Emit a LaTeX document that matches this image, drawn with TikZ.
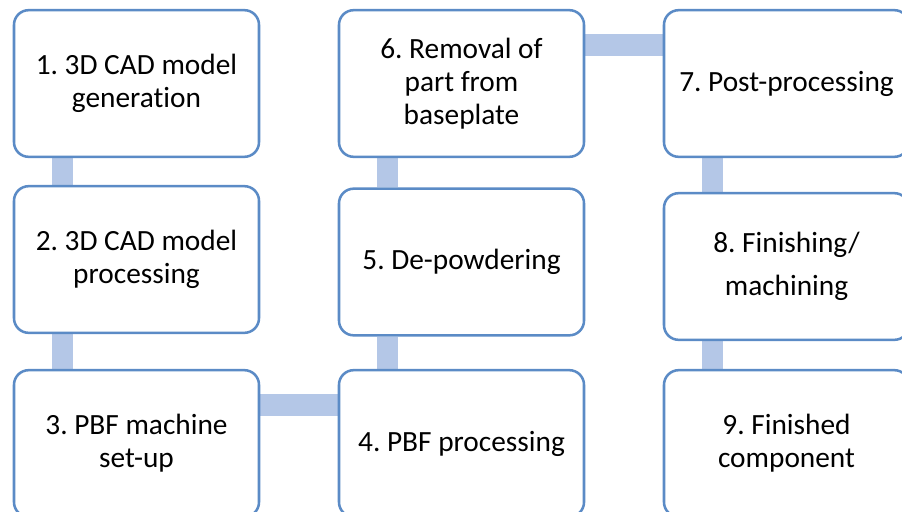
\documentclass[tikz,border=0pt]{standalone}
\usepackage{fontspec}
\setmainfont{Carlito}[Ligatures=NoCommon]
\usetikzlibrary{backgrounds}
\definecolor{stepline}{HTML}{5B8BC6}
\definecolor{steplink}{HTML}{B4C7E7}
\tikzset{
    stepbox/.style={draw=stepline, line width=1.9pt, rounded corners=11pt, fill=white,
        minimum width=183.75pt, minimum height=110pt, align=center,
        font=\fontsize{22}{24.8}\selectfont\frenchspacing},
    steplink/.style={draw=steplink, line width=16pt}
}
\begin{document}
\begin{tikzpicture}[x=0.75pt, y=-0.75pt]
    \useasboundingbox (0,0) rectangle (902,511);
    \clip (0,0) rectangle (902,511);

    \node[stepbox] (s1) at (136.5, 83.5) {1. 3D CAD model\\generation};
    \node[stepbox] (s2) at (136.5, 259.5) {2. 3D CAD model\\processing};
    \node[stepbox] (s3) at (136.5, 443.5) {3. PBF machine\\set-up};

    \node[stepbox] (s4) at (461.5, 443.5) {4. PBF processing};
    \node[stepbox] (s5) at (461.5, 262) {5. De-powdering};
    \node[stepbox] (s6) at (461.5, 83.5) {6. Removal of\\part from\\baseplate};

    \node[stepbox] (s7) at (786.5, 83.5) {7. Post-processing};
    \node[stepbox] (s8) at (786.5, 266.5) {8. Finishing/\\[7pt]machining};
    \node[stepbox] (s9) at (786.5, 443.5) {9. Finished\\component};

    \begin{scope}[on background layer]
        \draw[steplink] ([xshift=37.5pt]s1.south west) -- ([xshift=37.5pt]s2.north west);
        \draw[steplink] ([xshift=37.5pt]s2.south west) -- ([xshift=37.5pt]s3.north west);
        \draw[steplink] ([yshift=-27pt]s3.north east) -- ([yshift=-27pt]s4.north west);
        \draw[steplink] ([xshift=37.5pt]s4.north west) -- ([xshift=37.5pt]s5.south west);
        \draw[steplink] ([xshift=37.5pt]s5.north west) -- ([xshift=37.5pt]s6.south west);
        \draw[steplink] ([yshift=-27pt]s6.north east) -- ([yshift=-27pt]s7.north west);
        \draw[steplink] ([xshift=37.5pt]s7.south west) -- ([xshift=37.5pt]s8.north west);
        \draw[steplink] ([xshift=37.5pt]s8.south west) -- ([xshift=37.5pt]s9.north west);
    \end{scope}
\end{tikzpicture}
\end{document}
